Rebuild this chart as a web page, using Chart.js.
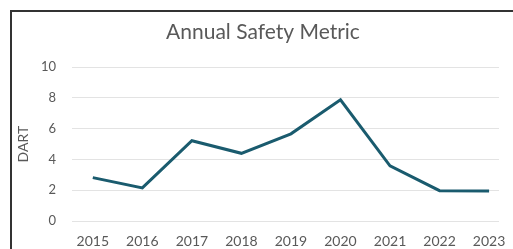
<!DOCTYPE html>
<html>
<head>
<meta charset="utf-8">
<script src="https://cdn.jsdelivr.net/npm/chart.js@4"></script>
<style>
    body { margin: 0; background: #fff; }
    #wrap { position: relative; width: 513px; height: 249px; }
    #frame {
        position: absolute; left: 10px; top: 10px; right: 0; bottom: 0;
        border-left: 2px solid #333; border-top: 2px solid #333;
        pointer-events: none;
    }
</style>
</head>
<body>
<div id="wrap">
    <canvas id="chart" width="513" height="249"></canvas>
    <div id="frame"></div>
</div>
<script>
const years = ["2015", "2016", "2017", "2018", "2019", "2020", "2021", "2022", "2023"];
const dart = [2.82, 2.15, 5.22, 4.4, 5.67, 7.88, 3.58, 1.97, 1.95];
const yTicks = [0, 2, 4, 6, 8, 10];

const textGrey = "#595959";

// x is a linear index so the years can sit a little off-centre, as in the original
const points = dart.map((v, i) => ({ x: i, y: v }));

new Chart(document.querySelector("#chart"), {
    type: "line",
    data: {
        datasets: [{
            label: "DART",
            data: points,
            borderColor: "#1a5b6e",
            borderWidth: 3,
            pointRadius: 0,
            tension: 0,
        }],
    },
    options: {
        responsive: false,
        animation: false,
        layout: { padding: { left: 27, right: 14, top: 20, bottom: 0 } },
        plugins: {
            legend: { display: false },
            tooltip: { enabled: false },
            title: {
                display: true,
                text: "Annual Safety Metric",
                color: textGrey,
                font: { family: "Lato", size: 21, weight: "normal" },
                padding: { top: 0, bottom: 22 },
            },
        },
        scales: {
            x: {
                type: "linear",
                min: -0.42,
                max: 8.2,
                afterBuildTicks: s => { s.ticks = years.map((y, i) => ({ value: i })); },
                grid: { display: false },
                border: { display: false },
                ticks: {
                    color: textGrey,
                    font: { family: "Lato", size: 14 },
                    maxRotation: 0,
                    padding: 4,
                    callback: (v, i) => years[i],
                },
                afterFit: s => { s.height = 28; },
            },
            y: {
                min: 0,
                max: 10,
                afterBuildTicks: s => { s.ticks = yTicks.map(v => ({ value: v })); },
                grid: { color: "#e3e3e3", drawTicks: false },
                border: { display: false },
                ticks: {
                    color: textGrey,
                    font: { family: "Lato", size: 13 },
                    padding: 16,
                },
                title: {
                    display: true,
                    text: "DART",
                    color: textGrey,
                    font: { family: "Lato", size: 14 },
                    padding: { top: -12, bottom: 0 },
                },
                afterFit: s => { s.width = 45; },
            },
        },
    },
});
</script>
</body>
</html>
